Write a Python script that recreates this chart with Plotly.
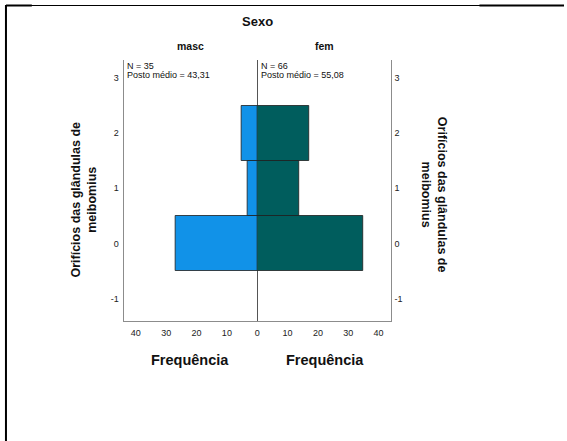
import plotly.graph_objects as go

# Data
categories = [0, 1, 2]
masc_freq = [27, 3, 5]
fem_freq = [35, 14, 17]
y_ticks = [-1, 0, 1, 2, 3]
y_ticklabels = ["-1", "0", "1", "2", "3"]
x_ticks = [0, 10, 20, 30, 40]
x_ticklabels_left = ["0", "10", "20", "30", "40"]
x_ticklabels_right = ["", "10", "20", "30", "40"]
masc_info = ["N = 35", "Posto médio = 43,31"]
fem_info = ["N = 66", "Posto médio = 55,08"]

W, H = 567, 441
def px(x):
    return x / W
def py(y):
    return 1 - y / H

FONT = "Arial, Liberation Sans, sans-serif"
BLUE = "#1192E8"
TEAL = "#005D5D"
FRAME = "#8c8c8c"

xl0, xc, xr1 = 124.3, 258.6, 392.8
ytop, ybot = 60, 321

fig = go.Figure()
fig.add_trace(go.Bar(
    orientation="h", x=masc_freq, y=categories, width=1,
    marker=dict(color=BLUE, line=dict(color="rgba(30,30,30,0.8)", width=1)),
    xaxis="x", yaxis="y", showlegend=False, hoverinfo="x+y"))
fig.add_trace(go.Bar(
    orientation="h", x=fem_freq, y=categories, width=1,
    marker=dict(color=TEAL, line=dict(color="rgba(30,30,30,0.8)", width=1)),
    xaxis="x2", yaxis="y2", showlegend=False, hoverinfo="x+y"))

yr = [-1.41, 3.33]
tickfont = dict(family=FONT, size=9, color="#222")
fig.update_layout(
    width=W, height=H,
    margin=dict(l=0, r=0, t=0, b=0),
    paper_bgcolor="white", plot_bgcolor="white",
    font=dict(family=FONT, color="#111"),
    bargap=0,
    xaxis=dict(domain=[px(xl0), px(xc)], range=[44, 0], anchor="y",
               tickvals=x_ticks, ticktext=x_ticklabels_left,
               showgrid=False, showline=True, linecolor=FRAME, linewidth=1,
               zeroline=True, zerolinecolor="#555", zerolinewidth=1,
               ticks="", tickfont=tickfont, ticklabelstandoff=3, fixedrange=True),
    xaxis2=dict(domain=[px(xc), px(xr1)], range=[0, 44], anchor="y2",
                tickvals=x_ticks, ticktext=x_ticklabels_right,
                showgrid=False, showline=True, linecolor=FRAME, linewidth=1,
                zeroline=False, ticks="", tickfont=tickfont, ticklabelstandoff=3,
                fixedrange=True),
    yaxis=dict(domain=[py(ybot), py(ytop)], range=yr, anchor="x",
               tickvals=y_ticks, ticktext=y_ticklabels, showgrid=False, showline=True,
               linecolor=FRAME, linewidth=1, zeroline=False, ticks="",
               tickfont=tickfont, ticklabelstandoff=2, fixedrange=True),
    yaxis2=dict(domain=[py(ybot), py(ytop)], range=yr, anchor="x2",
                side="right", tickvals=y_ticks, ticktext=y_ticklabels, showgrid=False,
                showline=True, linecolor=FRAME, linewidth=1,
                zeroline=False, ticks="", tickfont=tickfont, ticklabelstandoff=1,
                fixedrange=True),
)

ann = []
# Title and panel labels
ann.append(dict(text="<b>Sexo</b>", x=px(259), y=py(21), xref="paper", yref="paper",
                showarrow=False, font=dict(size=13, family=FONT, color="#111"),
                xanchor="center", yanchor="middle"))
ann.append(dict(text="<b>masc</b>", x=px(191.5), y=py(46), xref="paper", yref="paper",
                showarrow=False, font=dict(size=10.5, family=FONT, color="#111"),
                xanchor="center", yanchor="middle"))
ann.append(dict(text="<b>fem</b>", x=px(326), y=py(46), xref="paper", yref="paper",
                showarrow=False, font=dict(size=10.5, family=FONT, color="#111"),
                xanchor="center", yanchor="middle"))
# Info text
for i, line in enumerate(masc_info):
    ann.append(dict(text=line, x=px(126), y=py(66 + 8.6 * i), xref="paper", yref="paper",
                    showarrow=False, font=dict(size=9, family=FONT, color="#111"),
                    xanchor="left", yanchor="middle"))
for i, line in enumerate(fem_info):
    ann.append(dict(text=line, x=px(260.5), y=py(66 + 8.6 * i), xref="paper", yref="paper",
                    showarrow=False, font=dict(size=9, family=FONT, color="#111"),
                    xanchor="left", yanchor="middle"))
# Axis titles
for xc_ in (191.5, 326.5):
    ann.append(dict(text="<b>Frequência</b>", x=px(xc_), y=py(360), xref="paper", yref="paper",
                    showarrow=False, font=dict(size=14.5, family=FONT, color="#111"),
                    xanchor="center", yanchor="middle"))
ytitle = "<b>Orifícios das glândulas de<br>meibomius</b>"
ann.append(dict(text=ytitle, x=px(84), y=py(200), xref="paper", yref="paper",
                showarrow=False, textangle=-90, font=dict(size=12.5, family=FONT, color="#111"),
                xanchor="center", yanchor="middle"))
ann.append(dict(text=ytitle, x=px(436.5), y=py(195), xref="paper", yref="paper",
                showarrow=False, textangle=90, font=dict(size=12.5, family=FONT, color="#111"),
                xanchor="center", yanchor="middle"))
fig.update_layout(annotations=ann)

# Outer border lines
shapes = [
    dict(type="line", xref="paper", yref="paper", x0=px(6), x1=px(6), y0=py(5), y1=py(441),
         line=dict(color="black", width=2)),
    dict(type="line", xref="paper", yref="paper", x0=px(6), x1=px(567), y0=py(5.5), y1=py(5.5),
         line=dict(color="black", width=1)),
    dict(type="line", xref="paper", yref="paper", x0=px(6), x1=px(32), y0=py(5.5), y1=py(5.5),
         line=dict(color="black", width=2)),
    dict(type="line", xref="paper", yref="paper", x0=px(482), x1=px(567), y0=py(5.5), y1=py(5.5),
         line=dict(color="black", width=2)),
]
fig.update_layout(shapes=shapes)

fig.write_html("out.html")
